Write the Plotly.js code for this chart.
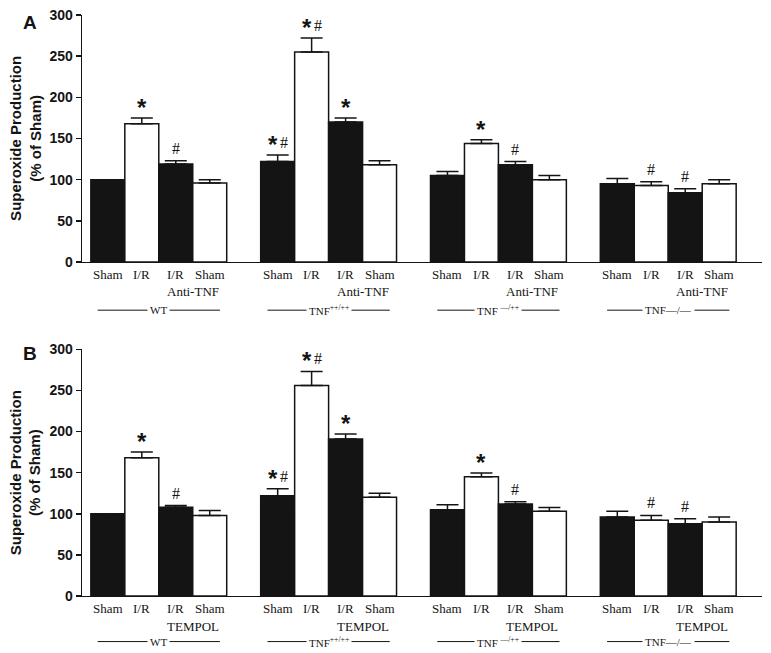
<!DOCTYPE html>
<html>
<head>
<meta charset="utf-8">
<script src="https://cdn.plot.ly/plotly-3.0.1.min.js"></script>
<style>
  html, body { margin: 0; padding: 0; background: #fff; }
  #myDiv { width: 771px; height: 653px; }
</style>
</head>
<body>
<div id="myDiv"></div>
<script>
// groups of mice, conditions per group
var groups = ['WT', 'TNF<sup>++/++</sup>', 'TNF <sup>\u2014/++</sup>', 'TNF\u2014/\u2014'];
var conds = ['Sham', 'I/R', 'I/R', 'Sham'];
var treatA = 'Anti-TNF';
var treatB = 'TEMPOL';

// panel A (anti-TNF)
var meanA = [100, 168, 119, 96,   122, 255, 170, 118,   105, 144, 118, 100,   95, 93, 84, 95];
var errA  = [0,   7,   4,   4,    8,   17,  5,   5,     5,   4.5, 4,   5,     6.5, 4.5, 5, 5];
var starA = [0, 1, 0, 0,  1, 1, 1, 0,  0, 1, 0, 0,  0, 0, 0, 0];
var hashA = [0, 0, 1, 0,  1, 1, 0, 0,  0, 0, 1, 0,  0, 1, 1, 0];

// panel B (TEMPOL)
var meanB = [100, 168, 108, 98,   122, 256, 191, 120,   105, 145, 112, 103,   96, 92, 88, 90];
var errB  = [0,   7,   2,   6,    8.5, 17,  6,   5,     6,   4.5, 2.5, 4.5,   7,  6,  6,  6];
var starB = [0, 1, 0, 0,  1, 1, 1, 0,  0, 1, 0, 0,  0, 0, 0, 0];
var hashB = [0, 0, 1, 0,  1, 1, 0, 0,  0, 0, 1, 0,  0, 1, 1, 0];

var xs = [], fills = [];
groups.forEach(function (g, gi) {
  conds.forEach(function (c, ci) {
    xs.push(gi * 5 + ci);
    fills.push(ci % 2 === 0 ? '#141414' : '#ffffff');
  });
});

function barTrace(means, errs, xa, ya) {
  return {
    type: 'bar',
    x: xs,
    y: means,
    xaxis: xa,
    yaxis: ya,
    marker: { color: fills, line: { color: '#141414', width: 1.5 } },
    error_y: {
      type: 'data', symmetric: false, array: errs,
      arrayminus: errs.map(function () { return 0; }),
      color: '#141414', thickness: 1.5, width: 11
    },
    hoverinfo: 'none',
    showlegend: false
  };
}

var data = [barTrace(meanA, errA, 'x', 'y'), barTrace(meanB, errB, 'x2', 'y2')];

var annotations = [];
var shapes = [];
var serif = 'Liberation Serif, Times New Roman, serif';
var sans = 'Liberation Sans, Arial, sans-serif';

function addPanel(xa, ya, means, errs, stars, hashes, treat, row1, row2, lineY, letter, letterY, domMid) {
  // significance marks
  xs.forEach(function (x, i) {
    var top = means[i] + errs[i];
    var both = stars[i] && hashes[i];
    if (stars[i]) {
      annotations.push({ xref: xa, yref: ya, x: x, y: top, text: '*', showarrow: false,
        xanchor: 'center', yanchor: 'bottom', yshift: -5, xshift: both ? -5 : 0,
        font: { family: sans, size: 24, weight: 'bold', color: '#141414' } });
    }
    if (hashes[i]) {
      annotations.push({ xref: xa, yref: ya, x: x, y: top, text: '#', showarrow: false,
        xanchor: 'center', yanchor: 'bottom', yshift: 2, xshift: both ? 6 : 0,
        font: { family: serif, size: 16, color: '#141414' } });
    }
    annotations.push({ xref: xa, yref: 'paper', x: x, y: row1, text: conds[i % 4], showarrow: false,
      xanchor: 'center', yanchor: 'middle', font: { family: serif, size: 13, color: '#141414' } });
  });
  groups.forEach(function (g, gi) {
    annotations.push({ xref: xa, yref: 'paper', x: gi * 5 + 2.5, y: row2, text: treat, showarrow: false,
      xanchor: 'center', yanchor: 'middle', font: { family: serif, size: 13, color: '#141414' } });
    shapes.push({ type: 'line', xref: xa, yref: 'paper', x0: gi * 5 - 0.3, x1: gi * 5 + 3.3,
      y0: lineY, y1: lineY, line: { color: '#141414', width: 1 } });
    annotations.push({ xref: xa, yref: 'paper', x: gi * 5 + 1.5, y: lineY, text: g, showarrow: false,
      xanchor: 'center', yanchor: 'middle', bgcolor: '#ffffff', borderpad: 2,
      font: { family: serif, size: 11, color: '#141414' } });
  });
  annotations.push({ xref: 'paper', yref: 'paper', x: 0.039, y: letterY, text: letter, showarrow: false,
    xanchor: 'center', yanchor: 'middle',
    font: { family: sans, size: 19, weight: 'bold', color: '#141414' } });
  annotations.push({ xref: 'paper', yref: 'paper', x: 0.033, y: domMid, text: 'Superoxide Production<br>(% of Sham)',
    showarrow: false, textangle: -90, xanchor: 'center', yanchor: 'middle',
    font: { family: sans, size: 15, weight: 'bold', color: '#141414' } });
}

addPanel('x', 'y', meanA, errA, starA, hashA, treatA, 0.579, 0.553, 0.525, 'A', 0.966, 0.788);
addPanel('x2', 'y2', meanB, errB, starB, hashB, treatB, 0.068, 0.041, 0.0175, 'B', 0.458, 0.276);

function xAxis(anchor) {
  return {
    domain: [0.1064, 0.9883], range: [-0.76, 19.26], anchor: anchor,
    showline: true, linecolor: '#141414', linewidth: 1.5,
    showticklabels: false, ticks: '', showgrid: false, zeroline: false, fixedrange: true
  };
}
function yAxis(anchor, dom) {
  return {
    domain: dom, range: [0, 300], anchor: anchor,
    tickvals: [0, 50, 100, 150, 200, 250, 300],
    ticks: 'outside', ticklen: 5, tickwidth: 1.5, tickcolor: '#141414',
    showline: true, linecolor: '#141414', linewidth: 1.5,
    showgrid: false, zeroline: false, fixedrange: true,
    tickfont: { family: sans, size: 14, weight: 'bold', color: '#141414' }
  };
}

var layout = {
  width: 771, height: 653,
  margin: { l: 0, r: 0, t: 0, b: 0 },
  paper_bgcolor: '#ffffff', plot_bgcolor: '#ffffff',
  bargap: 0,
  xaxis: xAxis('y'),
  yaxis: yAxis('x', [0.5988, 0.977]),
  xaxis2: xAxis('y2'),
  yaxis2: yAxis('x2', [0.0873, 0.4651]),
  annotations: annotations,
  shapes: shapes
};

Plotly.newPlot('myDiv', data, layout, { displayModeBar: false, staticPlot: true });
</script>
</body>
</html>
